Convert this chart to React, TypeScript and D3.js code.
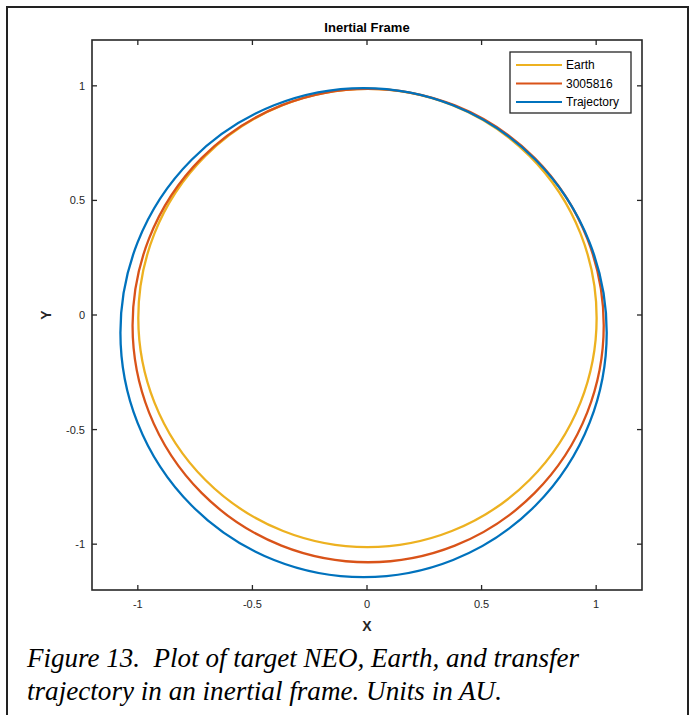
import React from "react";
import * as d3 from "d3";

// Orbit data (AU): ellipse centres and semi-axes
const orbitNames = ["Earth", "3005816", "Trajectory"];
const orbitColors = ["#EDB120", "#D95319", "#0072BD"];
const orbitCenterX = [0.002, 0.005, -0.015];
const orbitCenterY = [-0.013, -0.046, -0.077];
const orbitRadiusX = [1.0, 1.028, 1.061];
const orbitRadiusY = [1.0, 1.033, 1.067];

const xTicks = [-1, -0.5, 0, 0.5, 1];
const yTicks = [-1, -0.5, 0, 0.5, 1];
const xTickLabels = ["-1", "-0.5", "0", "0.5", "1"];
const yTickLabels = ["-1", "-0.5", "0", "0.5", "1"];

const W = 695;
const H = 715;
const left = 92, right = 642, top = 40, bottom = 590;

export default function App() {
  const x = d3.scaleLinear().domain([-1.2, 1.2]).range([left, right]);
  const y = d3.scaleLinear().domain([-1.2, 1.2]).range([bottom, top]);
  const axisColor = "#262626";
  const sans = "'Liberation Sans', Arial, Helvetica, sans-serif";
  const serif = "'Liberation Serif', 'DejaVu Serif', serif";
  const tickLen = 5;

  return (
    <svg
      width={W}
      height={H}
      style={{ position: "absolute", left: 0, top: 0, display: "block", background: "#fff" }}
    >
      <rect x={0} y={0} width={W} height={H} fill="#fff" />
      {/* outer figure frame */}
      <path d={`M7,${H + 5} V7 H688 V${H + 5}`} fill="none" stroke="#222" strokeWidth={2} />

      {/* title */}
      <text x={(left + right) / 2} y={32} textAnchor="middle" fontFamily={sans} fontWeight="bold" fontSize={13} fill="#000">
        Inertial Frame
      </text>

      {/* orbits */}
      <g>
        {orbitNames.map((n, i) => (
          <ellipse
            key={n}
            cx={x(orbitCenterX[i])}
            cy={y(orbitCenterY[i])}
            rx={x(orbitRadiusX[i]) - x(0)}
            ry={y(0) - y(orbitRadiusY[i])}
            fill="none"
            stroke={orbitColors[i]}
            strokeWidth={2.3}
          />
        ))}
      </g>

      {/* axes box */}
      <rect x={left} y={top} width={right - left} height={bottom - top} fill="none" stroke={axisColor} strokeWidth={1.6} />

      {/* x ticks */}
      {xTicks.map((t, i) => (
        <g key={"xt" + t}>
          <line x1={x(t)} x2={x(t)} y1={bottom} y2={bottom - tickLen} stroke={axisColor} strokeWidth={1.3} />
          <line x1={x(t)} x2={x(t)} y1={top} y2={top + tickLen} stroke={axisColor} strokeWidth={1.3} />
          <text x={x(t)} y={bottom + 18} textAnchor="middle" fontFamily={sans} fontSize={11} fill={axisColor}>
            {xTickLabels[i]}
          </text>
        </g>
      ))}
      {/* y ticks */}
      {yTicks.map((t, i) => (
        <g key={"yt" + t}>
          <line x1={left} x2={left + tickLen} y1={y(t)} y2={y(t)} stroke={axisColor} strokeWidth={1.3} />
          <line x1={right} x2={right - tickLen} y1={y(t)} y2={y(t)} stroke={axisColor} strokeWidth={1.3} />
          <text x={left - 7} y={y(t) + 4} textAnchor="end" fontFamily={sans} fontSize={11} fill={axisColor}>
            {yTickLabels[i]}
          </text>
        </g>
      ))}

      {/* axis labels */}
      <text x={(left + right) / 2} y={bottom + 41} textAnchor="middle" fontFamily={sans} fontWeight="bold" fontSize={14} fill={axisColor}>
        X
      </text>
      <text
        transform={`translate(${left - 41},${y(0)}) rotate(-90)`}
        textAnchor="middle"
        fontFamily={sans}
        fontWeight="bold"
        fontSize={14}
        fill={axisColor}
      >
        Y
      </text>

      {/* legend */}
      <g>
        <rect x={510} y={52} width={121} height={61} fill="#fff" stroke={axisColor} strokeWidth={1.3} />
        {orbitNames.map((n, i) => (
          <g key={"lg" + n}>
            <line x1={516} x2={562} y1={65 + i * 18.5} y2={65 + i * 18.5} stroke={orbitColors[i]} strokeWidth={2} />
            <text x={566} y={69 + i * 18.5} fontFamily={sans} fontSize={12} fill="#000">
              {n}
            </text>
          </g>
        ))}
      </g>

      {/* caption */}
      <text x={27} y={667} fontFamily={serif} fontStyle="italic" fontSize={28} fill="#000" textLength={552} lengthAdjust="spacingAndGlyphs" style={{ whiteSpace: "pre" }}>
        {"Figure 13.  Plot of target NEO, Earth, and transfer"}
      </text>
      <text x={27} y={700} fontFamily={serif} fontStyle="italic" fontSize={28} fill="#000" textLength={475} lengthAdjust="spacingAndGlyphs">
        trajectory in an inertial frame. Units in AU.
      </text>
    </svg>
  );
}
